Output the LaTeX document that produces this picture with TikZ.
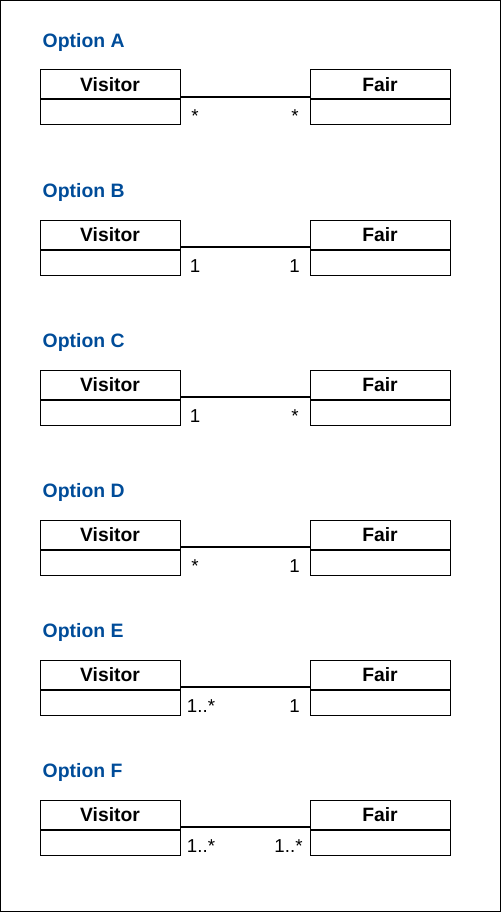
\documentclass[tikz,border=0pt]{standalone}
\usepackage{fontspec}
\setmainfont{Liberation Sans}
\definecolor{titleblue}{RGB}{0,76,153}
\begin{document}
\begin{tikzpicture}[x=1pt,y=-1pt,
  hdr/.style={draw,line width=1pt,minimum width=140pt,minimum height=29pt,inner sep=0pt,font=\fontsize{19.3}{21}\selectfont\bfseries},
  bdy/.style={draw,line width=1pt,minimum width=140pt,minimum height=25pt,inner sep=0pt,anchor=north},
  ttl/.style={anchor=base west,inner sep=0pt,text=titleblue,font=\fontsize{19.4}{21}\selectfont\bfseries},
  mult/.style={inner sep=0pt,anchor=base,font=\fontsize{18.7}{20}\selectfont},
  assoc/.style={line width=2.2pt}]
\useasboundingbox (0,0) rectangle (501,912);
\draw[line width=1pt] (0.5,0.5) rectangle (500.5,911.5);
\foreach \o/\T/\l/\lx/\r/\rx in {A/70/*/195/*/295, B/220/1/195/1/294.5, C/370/1/195/*/295, D/520/*/195/1/294.5, E/660/1..*/201/1/294.5, F/800/1..*/201/1..*/288.5}{
  \node[ttl] (t\o) at (42.5,\T-22.8) {Option \o};
  \node[hdr] (v\o) at (110,\T+14.5) {Visitor};
  \node[bdy] (vb\o) at (v\o.south) {};
  \node[hdr] (f\o) at (380,\T+14.5) {Fair};
  \node[bdy] (fb\o) at (f\o.south) {};
  \draw[assoc] ([yshift=2.5pt]v\o.south east) -- ([yshift=2.5pt]f\o.south west);
  \node[mult] (ml\o) at (\lx,\T+52.3) {\l};
  \node[mult] (mr\o) at (\rx,\T+52.3) {\r};
}
\end{tikzpicture}
\end{document}
